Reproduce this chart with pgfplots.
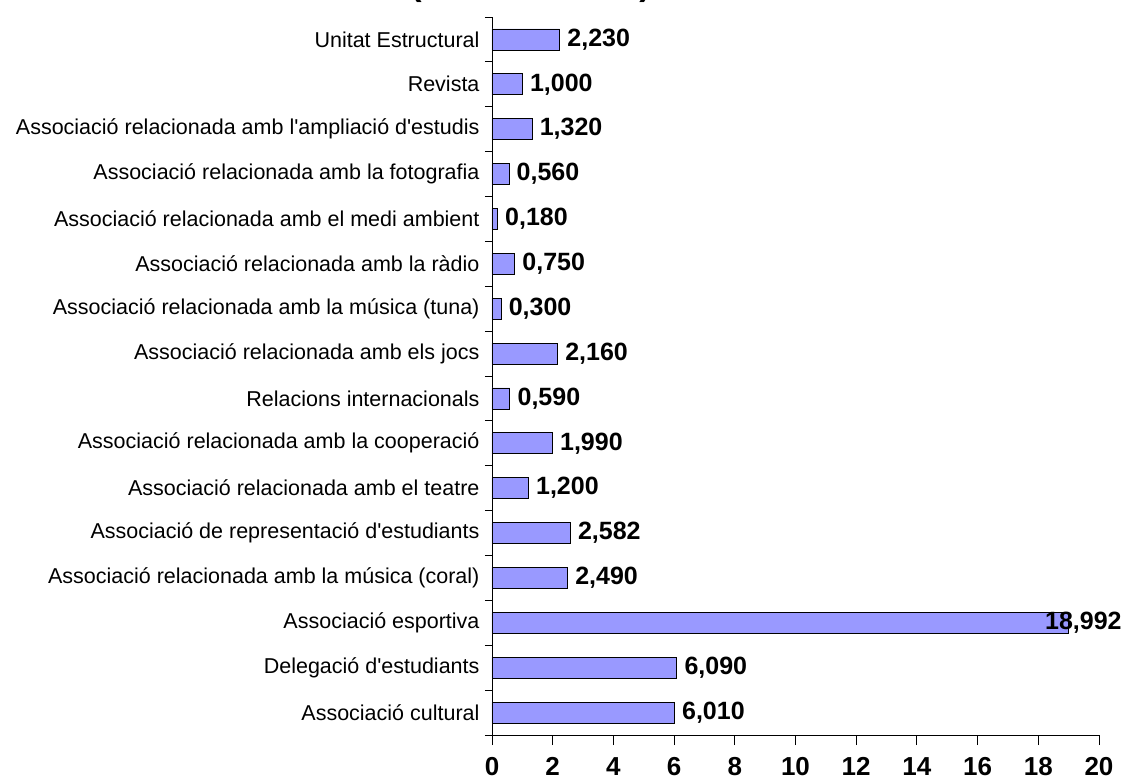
\documentclass[border=0pt]{standalone}
\usepackage{pgfplots}
\pgfplotsset{compat=1.18}
\usepackage{pgfplotstable}
\usepackage{fontspec}
\setmainfont{Liberation Sans}
\definecolor{barfill}{HTML}{9999FF}

% values stored bottom-up by index (0 = Associació cultural)
\pgfplotstableread{
idx val
0  6.010
1  6.090
2  18.992
3  2.490
4  2.582
5  1.200
6  1.990
7  0.590
8  2.160
9  0.300
10 0.750
11 0.180
12 0.560
13 1.320
14 1.000
15 2.230
}\datatable

\begin{document}
\begin{tikzpicture}
\begin{axis}[
  at={(0,0)}, anchor=south west,
  width=607pt, height=718pt, scale only axis,
  xbar, bar width=21pt,
  xmin=0, xmax=20, ymin=-0.5, ymax=15.5,
  axis x line*=bottom, axis y line*=left,
  axis line style={-, line width=0.8pt, black},
  xtick={0,2,...,20},
  ytick={0,...,15},
  yticklabels={Associació cultural, Delegació d\textquotesingle estudiants, Associació esportiva,
    Associació relacionada amb la música (coral), Associació de representació d\textquotesingle estudiants,
    Associació relacionada amb el teatre, Associació relacionada amb la cooperació,
    Relacions internacionals, Associació relacionada amb els jocs,
    Associació relacionada amb la música (tuna), Associació relacionada amb la ràdio,
    Associació relacionada amb el medi ambient, Associació relacionada amb la fotografia,
    Associació relacionada amb l\textquotesingle ampliació d\textquotesingle estudis, Revista, Unitat Estructural},
  minor ytick={-0.5,0.5,...,15.5},
  major y tick style={draw=none},
  minor y tick style={line width=0.8pt, black},
  minor tick length=7pt,
  major x tick style={line width=0.8pt, black},
  major tick length=10pt,
  tick align=outside,
  yticklabel style={font=\fontsize{21.5}{24}\selectfont, xshift=1pt},
  xticklabel style={font=\bfseries\fontsize{26}{26}\selectfont, yshift=-9pt},
  /pgf/number format/assume math mode=true,
  point meta=x,
  nodes near coords={\pgfmathprintnumber[fixed,fixed zerofill,precision=3,use comma,assume math mode=true]{\pgfplotspointmeta}},
  nodes near coords style={font=\bfseries\fontsize{25}{25}\selectfont, anchor=west, black, xshift=4pt},
  coordinate style/.condition={x>18}{xshift=-31pt},
]
\addplot[fill=barfill, draw=black, line width=0.8pt] table[x=val, y=idx] {\datatable};
\end{axis}
% remnants of a clipped title
\node[anchor=base, font=\bfseries\fontsize{34}{34}\selectfont] at (-76pt,739pt) {(};
\node[anchor=base, font=\bfseries\fontsize{34}{34}\selectfont] at (153pt,739pt) {)};
\pgfresetboundingbox
\useasboundingbox (-492pt,-47pt) rectangle (630pt,735pt);
\end{tikzpicture}
\end{document}
